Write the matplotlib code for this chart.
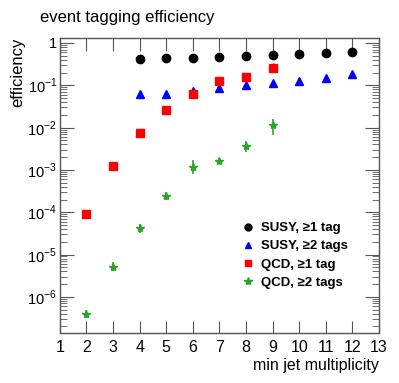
import numpy as np
import matplotlib
matplotlib.use("Agg")
import matplotlib.pyplot as plt
from matplotlib.lines import Line2D
from matplotlib.ticker import FixedLocator, FuncFormatter, LogLocator, NullFormatter

plt.rcParams['font.family'] = ['Liberation Sans', 'DejaVu Sans']
plt.rcParams['mathtext.fontset'] = 'custom'
plt.rcParams['mathtext.rm'] = 'Liberation Sans'

# values
susy1_x = [4, 5, 6, 7, 8, 9, 10, 11, 12]
susy1_y = [0.425, 0.43, 0.44, 0.46, 0.49, 0.52, 0.55, 0.58, 0.61]

susy2_x = [4, 5, 6, 7, 8, 9, 10, 11, 12]
susy2_y = [0.061, 0.063, 0.074, 0.085, 0.10, 0.115, 0.128, 0.151, 0.185]

qcd1_x = [2, 3, 4, 5, 6, 7, 8, 9]
qcd1_y = [9.1e-5, 1.23e-3, 7.45e-3, 0.0265, 0.062, 0.126, 0.158, 0.26]
qcd1_lo = [0, 0, 0, 0, 0, 0, 0.01, 0.05]
qcd1_hi = [0, 0, 0, 0, 0, 0, 0.01, 0.07]

qcd2_x = [2, 3, 4, 5, 6, 7, 8, 9]
qcd2_y = [3.9e-7, 5.2e-6, 4.2e-5, 2.45e-4, 1.2e-3, 1.65e-3, 3.7e-3, 0.0113]
qcd2_lo = [0.8e-7, 1.2e-6, 0.9e-5, 0.5e-4, 0.4e-3, 0.25e-3, 1.0e-3, 0.0046]
qcd2_hi = [0.9e-7, 1.4e-6, 1.0e-5, 0.6e-4, 0.5e-3, 0.3e-3, 1.0e-3, 0.0046]

labels = ['SUSY, \u22651 tag', 'SUSY, \u22652 tags', 'QCD, \u22651 tag', 'QCD, \u22652 tags']
colors = ['black', 'blue', 'red', '#2aa52a']
markers = ['o', '^', 's', '*']

fig = plt.figure(figsize=(3.99, 3.83), dpi=100)
ax = fig.add_axes([0.150, 0.1305, 0.800, 0.7703])

ax.plot(susy1_x, susy1_y, 'o', color=colors[0], ms=6, ls='none')
ax.plot(susy2_x, susy2_y, '^', color=colors[1], ms=6, ls='none')
ax.errorbar(qcd1_x, qcd1_y, yerr=[qcd1_lo, qcd1_hi], fmt='s', color=colors[2], ms=6,
            ecolor=colors[2], elinewidth=1, ls='none')
ax.errorbar(qcd2_x, qcd2_y, yerr=[qcd2_lo, qcd2_hi], fmt='*', color=colors[3], ms=6,
            ecolor=colors[3], elinewidth=1.2, ls='none')

ax.set_yscale('log')
ax.set_xlim(1, 13)
ax.set_ylim(1.4e-7, 1.31)

ax.xaxis.set_major_locator(FixedLocator(range(1, 14)))
ax.yaxis.set_major_locator(FixedLocator([1e-6, 1e-5, 1e-4, 1e-3, 1e-2, 1e-1, 1]))
ax.yaxis.set_minor_locator(LogLocator(base=10, subs=np.arange(2, 10), numticks=20))
ax.yaxis.set_minor_formatter(NullFormatter())


def ylab(v, pos):
    if abs(v - 1) < 1e-9:
        return '1'
    return r'$10^{%d}$' % int(round(np.log10(v)))


ax.yaxis.set_major_formatter(FuncFormatter(ylab))

ax.tick_params(which='both', direction='in', top=True, right=True, color='#555555')
ax.tick_params(axis='x', which='major', length=9, pad=5, labelsize=11.5)
ax.tick_params(axis='y', which='major', length=10, pad=2, labelsize=10.5)
ax.tick_params(axis='y', which='minor', length=5)
for s in ax.spines.values():
    s.set_color('#555555')
    s.set_linewidth(1)

ax.set_xlabel('min jet multiplicity', fontsize=11.5, loc='right')
ax.set_ylabel('efficiency', fontsize=12, loc='top')
ax.xaxis.set_label_coords(1.0, -0.085)
ax.yaxis.set_label_coords(-0.108, 1.0)

fig.text(0.10, 0.955, 'event tagging efficiency', fontsize=12, ha='left', va='center')

handles = [Line2D([], [], marker=m, color=c, ls='none', ms=5) for m, c in zip(markers, colors)]
handles[3].set_markersize(6)
ax.legend(handles, labels, loc='lower right', bbox_to_anchor=(0.94, 0.11), frameon=False,
          prop={'weight': 'bold', 'size': 9.5}, handletextpad=0.5,
          labelspacing=0.45, handlelength=1.0)

fig.savefig('out.png', dpi=100)
